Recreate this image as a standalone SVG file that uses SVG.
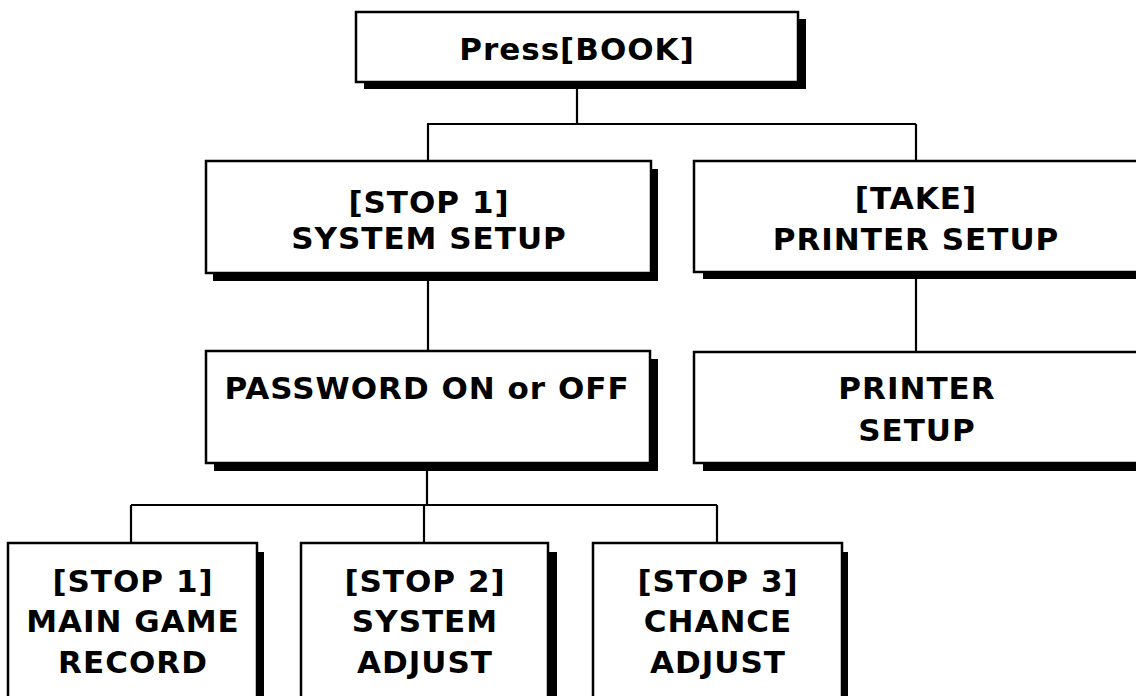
<svg xmlns="http://www.w3.org/2000/svg" width="1136" height="696" viewBox="0 0 1136 696">
<style>
.box{fill:#fff;stroke:#000;stroke-width:2.5}
.sh{fill:#000}
.t{font-family:"DejaVu Sans",Verdana,sans-serif;font-weight:bold;font-size:31px;fill:#000;text-anchor:middle;letter-spacing:1px}
.c{fill:none;stroke:#000;stroke-width:2.2}
</style>
<rect width="1136" height="696" fill="#fff"/>
<g id="connectors">
<path class="c" d="M577 84V124M427 124H916M428 124V161M916 124V161M428 273V351M916 272V352M427 463V505M131 505H717M131 505V543M424 505V543M717 505V543"/>
</g>
<g id="n-press">
<rect class="sh" x="364" y="19" width="442" height="70"/>
<rect class="box" x="356" y="12" width="442" height="70"/>
<text class="t" x="577" y="60">Press[BOOK]</text>
</g>
<g id="n-system">
<rect class="sh" x="213" y="169" width="445" height="112"/>
<rect class="box" x="206" y="161" width="445" height="112"/>
<text class="t" x="429" y="213">[STOP 1]</text>
<text class="t" x="429" y="249">SYSTEM SETUP</text>
</g>
<g id="n-take">
<rect class="sh" x="703" y="168" width="460" height="111"/>
<rect class="box" x="694" y="161" width="460" height="111"/>
<text class="t" x="916" y="209">[TAKE]</text>
<text class="t" x="916" y="250">PRINTER SETUP</text>
</g>
<g id="n-password">
<rect class="sh" x="214" y="359" width="444" height="112"/>
<rect class="box" x="206" y="351" width="444" height="112"/>
<text class="t" x="427" y="399">PASSWORD ON or OFF</text>
</g>
<g id="n-printer">
<rect class="sh" x="703" y="360" width="460" height="111"/>
<rect class="box" x="694" y="352" width="460" height="111"/>
<text class="t" x="917" y="399">PRINTER</text>
<text class="t" x="917" y="441">SETUP</text>
</g>
<g id="n-main">
<rect class="sh" x="15" y="552" width="249" height="170"/>
<rect class="box" x="8" y="543" width="249" height="170"/>
<text class="t" x="133" y="592">[STOP 1]</text>
<text class="t" x="133" y="632">MAIN GAME</text>
<text class="t" x="133" y="673">RECORD</text>
</g>
<g id="n-sysadj">
<rect class="sh" x="309" y="552" width="248" height="170"/>
<rect class="box" x="301" y="543" width="247" height="170"/>
<text class="t" x="425" y="592">[STOP 2]</text>
<text class="t" x="425" y="632">SYSTEM</text>
<text class="t" x="425" y="673">ADJUST</text>
</g>
<g id="n-chance">
<rect class="sh" x="600" y="552" width="248" height="170"/>
<rect class="box" x="593" y="543" width="249" height="170"/>
<text class="t" x="718" y="592">[STOP 3]</text>
<text class="t" x="718" y="632">CHANCE</text>
<text class="t" x="718" y="673">ADJUST</text>
</g>
</svg>
